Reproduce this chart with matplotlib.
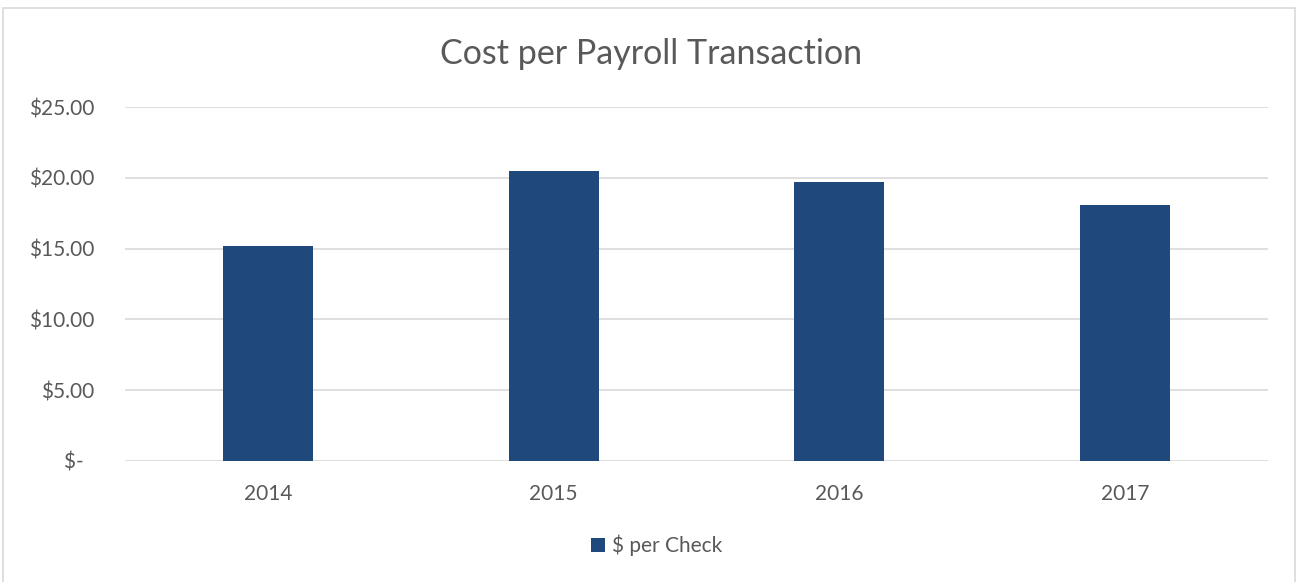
import matplotlib.pyplot as plt
from matplotlib.patches import Rectangle

years = ["2014", "2015", "2016", "2017"]
cost_per_check = [15.18, 20.49, 19.71, 18.06]
series_name = "$ per Check"
title = "Cost per Payroll Transaction"

bar_color = "#1f497d"
text_color = "#595959"
grid_color = "#d9d9d9"

plt.rcParams["font.family"] = ["Lato", "DejaVu Sans"]

fig = plt.figure(figsize=(12.97, 5.82), dpi=100)
ax = fig.add_axes([0.0964, 0.2084, 0.8813, 0.6072])

x = range(len(years))
ax.bar(x, cost_per_check, width=0.315, color=bar_color, label=series_name, zorder=3)

ax.set_xlim(-0.5, len(years) - 0.5)
ax.set_ylim(0, 25)
ax.set_yticks([0, 5, 10, 15, 20, 25])
ax.set_yticklabels(["$-  " if v == 0 else f"${v:.2f}" for v in [0, 5, 10, 15, 20, 25]])
ax.set_xticks(list(x))
ax.set_xticklabels(years)

ax.grid(axis="y", color=grid_color, linewidth=1.2, zorder=0)
for s in ["top", "right", "left", "bottom"]:
    ax.spines[s].set_visible(False)
ax.tick_params(axis="both", length=0, labelsize=15, colors=text_color)
ax.tick_params(axis="y", pad=22)
ax.tick_params(axis="x", pad=17)

fig.text(0.502, 0.908, title, ha="center", va="center", fontsize=24.5, color=text_color)

fig.legend(loc="center", bbox_to_anchor=(0.506, 0.063), frameon=False, fontsize=15,
           labelcolor=text_color, handlelength=0.7, handleheight=0.7, handletextpad=0.3)

fig.patches.append(Rectangle((3 / 1297, -0.01), 1292 / 1297, 1 - 8 / 582 + 0.01,
                             transform=fig.transFigure, fill=False,
                             edgecolor=grid_color, linewidth=1.2))

fig.savefig("out.png", dpi=100)
